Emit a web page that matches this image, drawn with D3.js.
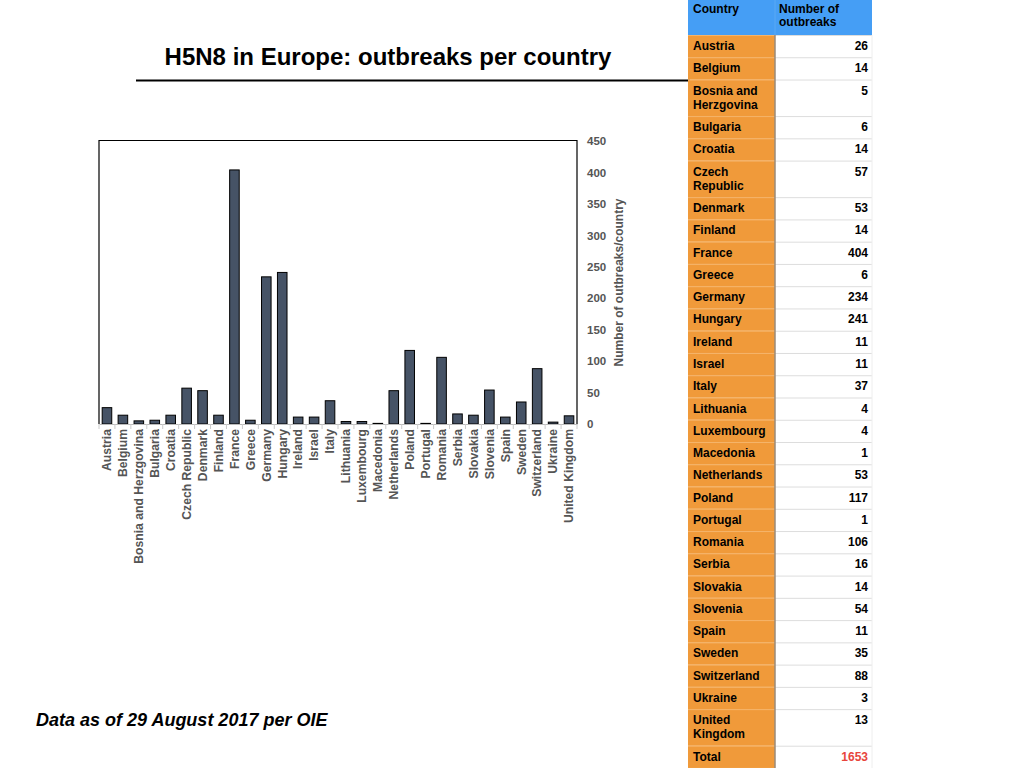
<!DOCTYPE html>
<html><head><meta charset="utf-8">
<script src="https://cdn.jsdelivr.net/npm/d3@7"></script>
<style>
html,body{margin:0;padding:0;background:#fff;}
svg{display:block;font-family:"Liberation Sans",Arial,Helvetica,sans-serif;}
</style></head>
<body>
<svg id="c" width="1024" height="768"></svg>
<script>
const countries = ["Austria","Belgium","Bosnia and Herzgovina","Bulgaria","Croatia","Czech Republic","Denmark","Finland","France","Greece","Germany","Hungary","Ireland","Israel","Italy","Lithuania","Luxembourg","Macedonia","Netherlands","Poland","Portugal","Romania","Serbia","Slovakia","Slovenia","Spain","Sweden","Switzerland","Ukraine","United Kingdom"];
const outbreaks = [26,14,5,6,14,57,53,14,404,6,234,241,11,11,37,4,4,1,53,117,1,106,16,14,54,11,35,88,3,13];
const yTicks = [0,50,100,150,200,250,300,350,400,450];
const title = "H5N8 in Europe: outbreaks per country";
const yTitle = "Number of outbreaks/country";
const footnote = "Data as of 29 August 2017 per OIE";
const tableHeader = [["Country"],["Number of","outbreaks"]];
const tableLabels = [["Austria"],["Belgium"],["Bosnia and","Herzgovina"],["Bulgaria"],["Croatia"],["Czech","Republic"],["Denmark"],["Finland"],["France"],["Greece"],["Germany"],["Hungary"],["Ireland"],["Israel"],["Italy"],["Lithuania"],["Luxembourg"],["Macedonia"],["Netherlands"],["Poland"],["Portugal"],["Romania"],["Serbia"],["Slovakia"],["Slovenia"],["Spain"],["Sweden"],["Switzerland"],["Ukraine"],["United","Kingdom"]];
const totalLabel = "Total";
const totalValue = 1653;

const svg = d3.select("#c");

// Chart
const L = 99, R = 577, T = 141, B = 424;
const x = d3.scaleBand().domain(countries).range([L, R]).paddingInner(0.4).paddingOuter(0.2);
const y = d3.scaleLinear().domain([0, 450]).range([B, T]);

// box
svg.append("path").attr("d", `M${L},${B}V${T-0.5}H${R}V${B}`)
  .attr("fill","none").attr("stroke","#000").attr("stroke-width",1.2);

// bars
svg.append("g").selectAll("rect").data(countries).join("rect")
  .attr("x", d => x(d))
  .attr("width", x.bandwidth())
  .attr("y", (d,i) => y(outbreaks[i]))
  .attr("height", (d,i) => B - y(outbreaks[i]))
  .attr("fill", "#465366").attr("stroke", "#000").attr("stroke-width", 1);

// bottom axis
const xAxis = d3.axisBottom(x).tickSize(0).tickPadding(0);
const gx = svg.append("g").attr("transform", `translate(0,${B})`).call(xAxis);
gx.select(".domain").attr("stroke","#bbb").attr("stroke-width",1.2);
gx.selectAll(".tick text")
  .attr("transform","rotate(-90)")
  .attr("x", -5).attr("y", 0).attr("dy","0.35em")
  .attr("text-anchor","end")
  .attr("font-size", 12.2).attr("font-weight","bold").attr("fill","#555")
  .style("font-family","Liberation Sans, Arial, sans-serif");
// separator ticks between bands
svg.append("g").selectAll("line").data(d3.range(countries.length+1)).join("line")
  .attr("x1", i => L + i*(R-L)/countries.length).attr("x2", i => L + i*(R-L)/countries.length)
  .attr("y1", B).attr("y2", B+5).attr("stroke","#ccc").attr("stroke-width",1);

// right axis
const yAxis = d3.axisRight(y).tickValues(yTicks).tickSize(0).tickPadding(10);
const gy = svg.append("g").attr("transform", `translate(${R},0)`).call(yAxis);
gy.select(".domain").remove();
gy.selectAll(".tick text").attr("font-size", 11.5).attr("font-weight","bold").attr("fill","#555")
  .style("font-family","Liberation Sans, Arial, sans-serif");

svg.append("text").attr("transform", `translate(623,${(T+B)/2}) rotate(-90)`)
  .attr("text-anchor","middle").attr("font-size",12).attr("font-weight","bold").attr("fill","#555")
  .text(yTitle);

// title & rule
svg.append("text").attr("x", 388).attr("y", 64.5).attr("text-anchor","middle")
  .attr("font-size", 24).attr("font-weight","bold").attr("fill","#000").text(title);
svg.append("line").attr("x1",136).attr("x2",690).attr("y1",80.5).attr("y2",80.5)
  .attr("stroke","#000").attr("stroke-width",2);

// footnote
svg.append("text").attr("x", 36).attr("y", 726).attr("font-size", 18)
  .attr("font-weight","bold").attr("font-style","italic").attr("fill","#000").text(footnote);

// Table
const tx0 = 688, tx1 = 775, tx2 = 872;
const headH = 35, s = 22.26, dH = 36.56;
const tg = svg.append("g");
tg.append("rect").attr("x",tx0).attr("y",0).attr("width",tx2-tx0).attr("height",headH).attr("fill","#459ef5");
tg.append("line").attr("x1",tx1).attr("x2",tx1).attr("y1",0).attr("y2",headH).attr("stroke","#5aa9f5").attr("stroke-width",1);
tableHeader.forEach((lines, c) => {
  lines.forEach((ln, k) => {
    tg.append("text").attr("x", c===0 ? tx0+5 : tx1+4).attr("y", 13 + k*13)
      .attr("font-size",12).attr("font-weight","bold").attr("fill","#000").text(ln);
  });
});
const rows = tableLabels.map((lines,i) => ({lines, value: outbreaks[i], color:"#000"}));
rows.push({lines:[totalLabel], value: totalValue, color:"#e8453c"});
let yy = headH;
rows.forEach(r => {
  const h = r.lines.length > 1 ? dH : s;
  tg.append("rect").attr("x",tx0).attr("y",yy).attr("width",tx1-tx0).attr("height",h).attr("fill","#f09a3a");
  tg.append("rect").attr("x",tx1).attr("y",yy).attr("width",tx2-tx1).attr("height",h).attr("fill","#fff");
  tg.append("line").attr("x1",tx0).attr("x2",tx1).attr("y1",yy+0.5).attr("y2",yy+0.5).attr("stroke","#f5b46a").attr("stroke-width",1);
  tg.append("line").attr("x1",tx1).attr("x2",tx2).attr("y1",yy+0.5).attr("y2",yy+0.5).attr("stroke","#ddd").attr("stroke-width",1);
  r.lines.forEach((ln,k) => {
    tg.append("text").attr("x",tx0+5).attr("y",yy+15+k*14).attr("font-size",12).attr("font-weight","bold").attr("fill","#000").text(ln);
  });
  tg.append("text").attr("x",tx2-4).attr("y",yy+15).attr("text-anchor","end").attr("font-size",12).attr("font-weight","bold").attr("fill",r.color).text(r.value);
  yy += h;
});
tg.append("line").attr("x1",tx1).attr("x2",tx1).attr("y1",headH).attr("y2",768).attr("stroke","#9a8a78").attr("stroke-width",1.5);
tg.append("line").attr("x1",tx2).attr("x2",tx2).attr("y1",headH).attr("y2",768).attr("stroke","#eee").attr("stroke-width",1);
</script>
</body></html>
